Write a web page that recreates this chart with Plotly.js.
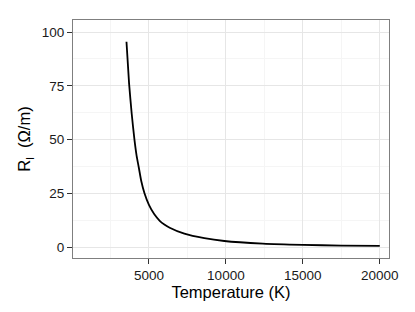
<!DOCTYPE html>
<html>
<head>
<meta charset="utf-8">
<script src="https://cdn.plot.ly/plotly-3.0.1.min.js"></script>
<style>
  html, body { margin: 0; padding: 0; background: #fff; }
  #viz { width: 415px; height: 312px; }
</style>
</head>
<body>
<div id="viz"></div>
<script>
// readings taken off the curve
var temperature = [3540, 3710, 3880, 4060, 4200, 4340, 4500, 4710, 5000, 5350, 5700, 6000, 6350, 7300, 8600, 9900, 12400, 15000, 17500, 20000];
var resistance = [95.5, 76, 62, 49.8, 42.4, 37, 30.7, 25, 19.6, 15.2, 12.2, 10.5, 9.0, 6.2, 4.1, 2.8, 1.6, 1.0, 0.69, 0.5];

var xTicks = [5000, 10000, 15000, 20000];
var xLabels = ['5000', '10000', '15000', '20000'];
var yTicks = [0, 25, 50, 75, 100];

var curve = {
  x: temperature,
  y: resistance,
  mode: 'lines',
  line: { color: '#000', width: 1.8, shape: 'spline', smoothing: 0.6 },
  hoverinfo: 'skip'
};

var layout = {
  width: 415,
  height: 312,
  margin: { l: 73, r: 26, t: 20, b: 54 },
  paper_bgcolor: '#fff',
  plot_bgcolor: '#fff',
  showlegend: false,
  font: { family: 'Liberation Sans, Arial, sans-serif', color: '#000', size: 12 },
  xaxis: {
    range: [65, 20600],
    tickmode: 'array',
    tickvals: xTicks,
    ticktext: xLabels,
    ticks: 'outside',
    ticklen: 5,
    tickwidth: 1,
    tickcolor: '#333',
    showline: true,
    mirror: true,
    linecolor: '#7f7f7f',
    linewidth: 1,
    zeroline: false,
    gridcolor: '#e6e6e6',
    gridwidth: 1,
    minor: { tickvals: [2500, 7500, 12500, 17500], showgrid: true, gridcolor: '#f5f5f5', ticks: '' },
    tickfont: { size: 13.5, color: '#1a1a1a' },
    title: { text: 'Temperature (K)', font: { size: 16.5 }, standoff: 2 }
  },
  yaxis: {
    range: [-5.1, 105.6],
    tickmode: 'array',
    tickvals: yTicks,
    ticks: 'outside',
    ticklen: 5,
    tickwidth: 1,
    tickcolor: '#333',
    showline: true,
    mirror: true,
    linecolor: '#7f7f7f',
    linewidth: 1,
    zeroline: false,
    gridcolor: '#e6e6e6',
    gridwidth: 1,
    minor: { tickvals: [12.5, 37.5, 62.5, 87.5], showgrid: true, gridcolor: '#f5f5f5', ticks: '' },
    tickfont: { size: 13.5, color: '#1a1a1a' },
    title: { text: 'R<sub>l</sub>  (Ω/m)', font: { size: 16.5 }, standoff: 6 }
  }
};

Plotly.newPlot('viz', [curve], layout, { staticPlot: true, displayModeBar: false });
</script>
</body>
</html>
